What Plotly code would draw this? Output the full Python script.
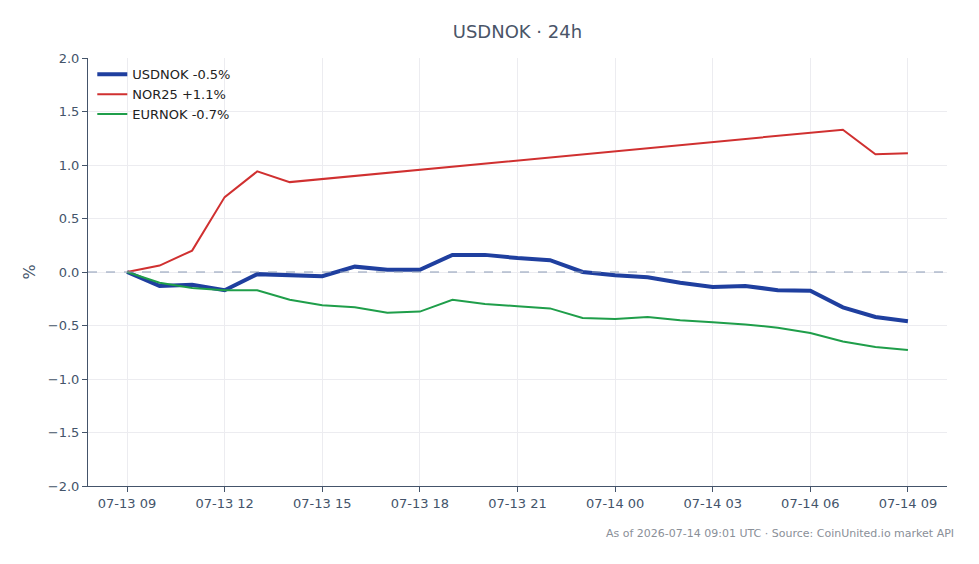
import plotly.graph_objects as go
import pandas as pd

hours = pd.date_range("2026-07-13 09:00", "2026-07-14 09:00", freq="h")

usdnok = [0.0, -0.13, -0.12, -0.17, -0.02, -0.03, -0.04, 0.05, 0.02, 0.02,
          0.16, 0.16, 0.13, 0.11, 0.0, -0.03, -0.05, -0.10, -0.14, -0.13,
          -0.17, -0.175, -0.33, -0.42, -0.46]
eurnok = [0.0, -0.10, -0.15, -0.17, -0.17, -0.26, -0.31, -0.33, -0.38, -0.37,
          -0.26, -0.30, -0.32, -0.34, -0.43, -0.44, -0.42, -0.45, -0.47, -0.49,
          -0.52, -0.57, -0.65, -0.70, -0.73]
nor25_idx = [0, 1, 2, 3, 4, 5, 22, 23, 24]
nor25 = [0.0, 0.06, 0.20, 0.70, 0.94, 0.84, 1.33, 1.10, 1.11]

names = ["USDNOK -0.5%", "NOR25 +1.1%", "EURNOK -0.7%"]
colors = ["#1f3f9f", "#d03030", "#1f9e4a"]

fig = go.Figure()
fig.add_trace(go.Scatter(x=hours, y=usdnok, mode="lines", name=names[0],
                         line=dict(color=colors[0], width=4)))
fig.add_trace(go.Scatter(x=[hours[i] for i in nor25_idx], y=nor25, mode="lines",
                         name=names[1], line=dict(color=colors[1], width=2)))
fig.add_trace(go.Scatter(x=hours, y=eurnok, mode="lines", name=names[2],
                         line=dict(color=colors[2], width=2)))

fig.add_hline(y=0, line=dict(color="#8a9ab5", width=1, dash="dash"))

axis_color = "#44546a"
fig.update_layout(
    width=979, height=564,
    margin=dict(l=88, r=32, t=58, b=78),
    paper_bgcolor="white", plot_bgcolor="white",
    font=dict(family="DejaVu Sans", size=13, color=axis_color),
    title=dict(text="USDNOK · 24h", x=0.5285, xanchor="center",
               y=1 - 32 / 564, yanchor="middle",
               font=dict(size=18, color="#4a5568")),
    legend=dict(x=0.005, y=0.997, xanchor="left", yanchor="top",
                bgcolor="rgba(0,0,0,0)", font=dict(size=13, color="#222")),
    showlegend=True,
)
fig.update_xaxes(
    range=[pd.Timestamp("2026-07-13 07:48"), pd.Timestamp("2026-07-14 10:12")],
    tickformat="%m-%d %H", dtick=3 * 3600 * 1000,
    tick0="2026-07-13 09:00",
    showline=True, linecolor=axis_color, linewidth=1,
    ticks="outside", tickcolor=axis_color, ticklen=5,
    showgrid=True, gridcolor="#ececf0", zeroline=False,
)
fig.update_yaxes(
    range=[-2, 2], dtick=0.5, tickformat=".1f",
    title=dict(text="%", standoff=8),
    showline=True, linecolor=axis_color, linewidth=1,
    ticks="outside", tickcolor=axis_color, ticklen=5,
    showgrid=True, gridcolor="#ececf0", zeroline=False,
)
fig.add_annotation(text="As of 2026-07-14 09:01 UTC · Source: CoinUnited.io market API",
                   xref="paper", yref="paper", x=1.01, y=-0.092,
                   xanchor="right", yanchor="top", showarrow=False,
                   font=dict(size=11, color="#8a8f98"))

fig.write_html("out.html")
